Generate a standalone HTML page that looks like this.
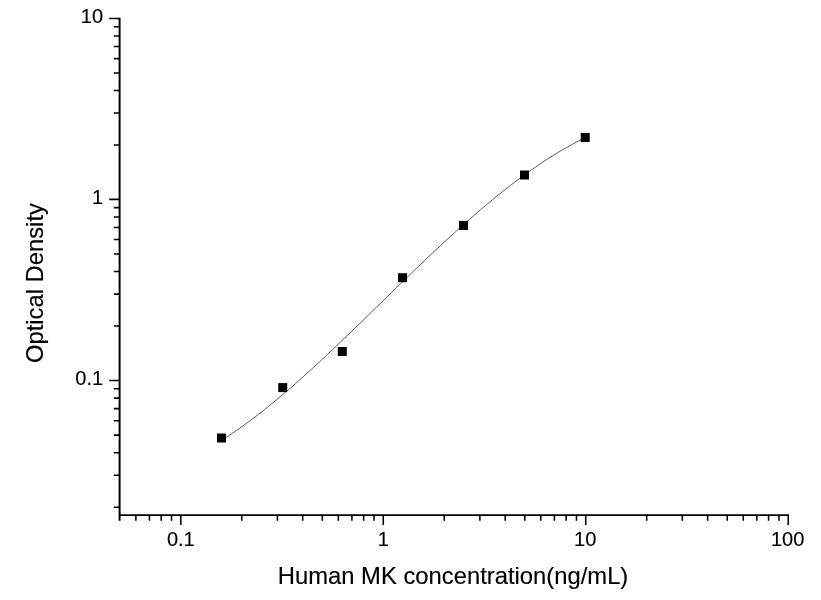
<!DOCTYPE html>
<html lang="en"><head><meta charset="utf-8"><title>Human MK ELISA standard curve</title>
<style>html,body{margin:0;padding:0;background:#fff}svg{display:block}text{font-family:"Liberation Sans",Arial,sans-serif;fill:#000;stroke:#000;stroke-width:.15px}.t{font-size:20px}.a{font-size:23.8px}</style></head><body>
<svg width="821" height="600" viewBox="0 0 821 600">
<rect width="821" height="600" fill="#fff"/>
<g stroke="#000" stroke-width="1.55" fill="none">
<path stroke-width="2" d="M119.6 17.70V520.75"/>
<path stroke-width="1.8" d="M119.6 515.05H789.01"/>
<path d="M113.80 507.20H119.6M113.80 475.30H119.6M113.80 452.66H119.6M113.80 435.10H119.6M113.80 420.75H119.6M113.80 408.62H119.6M113.80 398.11H119.6M113.80 388.84H119.6M109.20 380.55H119.6M113.80 326.00H119.6M113.80 294.10H119.6M113.80 271.46H119.6M113.80 253.90H119.6M113.80 239.55H119.6M113.80 227.42H119.6M113.80 216.91H119.6M113.80 207.64H119.6M109.20 199.35H119.6M113.80 144.91H119.6M113.80 113.06H119.6M113.80 90.47H119.6M113.80 72.94H119.6M113.80 58.62H119.6M113.80 46.51H119.6M113.80 36.03H119.6M113.80 26.78H119.6M109.20 18.50H119.6"/>
<path d="M135.88 515.05V520.75M149.44 515.05V520.75M161.18 515.05V520.75M171.54 515.05V520.75M180.80 515.05V524.95M241.75 515.05V520.75M277.40 515.05V520.75M302.70 515.05V520.75M322.32 515.05V520.75M338.35 515.05V520.75M351.91 515.05V520.75M363.65 515.05V520.75M374.01 515.05V520.75M383.27 515.05V524.95M444.22 515.05V520.75M479.87 515.05V520.75M505.17 515.05V520.75M524.79 515.05V520.75M540.82 515.05V520.75M554.38 515.05V520.75M566.12 515.05V520.75M576.48 515.05V520.75M585.74 515.05V524.95M646.69 515.05V520.75M682.34 515.05V520.75M707.64 515.05V520.75M727.26 515.05V520.75M743.29 515.05V520.75M756.85 515.05V520.75M768.59 515.05V520.75M778.95 515.05V520.75M788.21 515.05V524.95"/>
</g>
<path d="M221.5 440.3 L227.7 436.4 L233.8 432.3 L240.0 428.0 L246.2 423.6 L252.3 419.0 L258.5 414.3 L264.7 409.5 L270.8 404.5 L277.0 399.4 L283.1 394.2 L289.3 389.0 L295.5 383.6 L301.6 378.1 L307.8 372.6 L314.0 366.9 L320.1 361.3 L326.3 355.5 L332.5 349.7 L338.6 343.8 L344.8 337.9 L351.0 332.0 L357.1 326.0 L363.3 320.1 L369.4 314.1 L375.6 308.0 L381.8 302.0 L387.9 296.0 L394.1 290.0 L400.3 284.0 L406.4 278.0 L412.6 272.1 L418.8 266.1 L424.9 260.3 L431.1 254.4 L437.3 248.6 L443.4 242.9 L449.6 237.2 L455.7 231.6 L461.9 226.0 L468.1 220.6 L474.2 215.2 L480.4 209.9 L486.6 204.6 L492.7 199.5 L498.9 194.5 L505.1 189.6 L511.2 184.8 L517.4 180.1 L523.6 175.5 L529.7 171.1 L535.9 166.8 L542.0 162.6 L548.2 158.6 L554.4 154.7 L560.5 151.0 L566.7 147.4 L572.9 144.0 L579.0 140.7 L585.2 137.6" stroke="#1a1a1a" stroke-width="0.7" fill="none"/>
<rect x="217.00" y="433.50" width="9" height="9" fill="#000"/>
<rect x="278.25" y="383.10" width="9" height="9" fill="#000"/>
<rect x="337.80" y="347.00" width="9" height="9" fill="#000"/>
<rect x="398.10" y="273.20" width="9" height="9" fill="#000"/>
<rect x="459.00" y="220.90" width="9" height="9" fill="#000"/>
<rect x="520.00" y="170.50" width="9" height="9" fill="#000"/>
<rect x="580.70" y="133.00" width="9" height="9" fill="#000"/>
<text class="t" x="103.1" y="23.3" text-anchor="end">10</text>
<text class="t" x="103.1" y="204.2" text-anchor="end">1</text>
<text class="t" x="103.1" y="385.3" text-anchor="end">0.1</text>
<text class="t" x="180.8" y="546" text-anchor="middle">0.1</text>
<text class="t" x="383.3" y="546" text-anchor="middle">1</text>
<text class="t" x="585.2" y="546" text-anchor="middle">10</text>
<text class="t" x="787.7" y="546" text-anchor="middle">100</text>
<text class="a" x="277.8" y="584.3">Human MK concentration(ng/mL)</text>
<text class="a" transform="translate(42.6 283.1) rotate(-90)" text-anchor="middle">Optical Density</text>
</svg></body></html>
